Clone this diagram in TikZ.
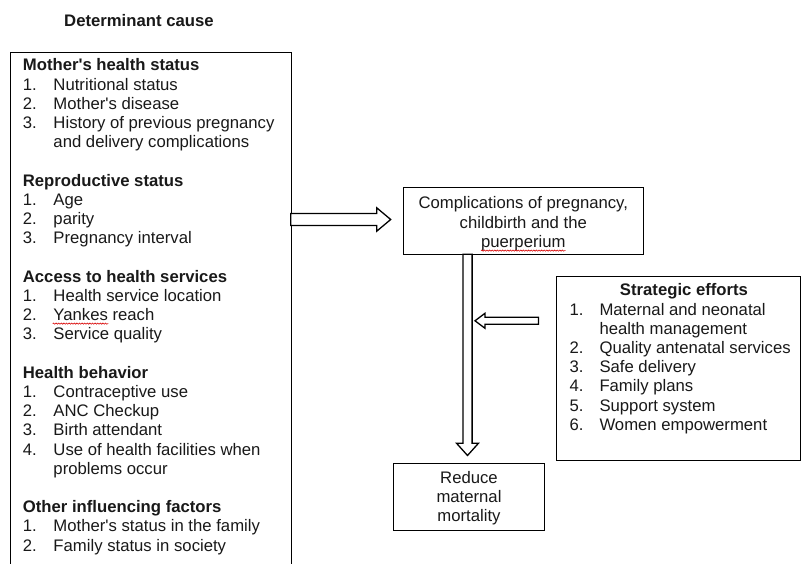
\documentclass[tikz,border=0pt]{standalone}
\usepackage{fontspec}
\setmainfont{Liberation Sans}
\newfontfamily\arialf{Liberation Sans}
\usetikzlibrary{decorations.pathmorphing}
\newcommand\fsz{\arialf\fontsize{16.7bp}{19.2bp}\selectfont}
\newcommand\hdl[2]{\node[hd] (h#1) at (22.7,{71+19.2*#1}) {#2};}
\newcommand\itl[3]{\node[txt] (n#1) at (22.7,{71+19.2*#1}) {#2};\node[txt] (t#1) at (53.3,{71+19.2*#1}) {#3};}
\newcommand\ctl[2]{\node[txt] (t#1) at (53.3,{71+19.2*#1}) {#2};}
\newcommand\sitl[3]{\node[txt] (sn#1) at (569.3,{315+19.2*#1}) {#2};\node[txt] (st#1) at (599.3,{315+19.2*#1}) {#3};}
\newcommand\sctl[2]{\node[txt] (st#1) at (599.3,{315+19.2*#1}) {#2};}
\begin{document}
\begin{tikzpicture}[x=1bp,y=-1bp,
  txt/.style={anchor=base west, inner sep=0pt, font=\fsz, text=black!90},
  hd/.style={txt, font=\fsz\bfseries},
  ctr/.style={anchor=base, inner sep=0pt, font=\fsz, text=black!90},
  box/.style={draw, line width=0.9bp, inner sep=0pt},
  blk/.style={draw, line width=1.3bp, fill=white, line join=miter},
  squig/.style={draw=red!85!black, line width=0.6bp, decorate, decoration={snake, amplitude=0.6bp, segment length=2.6bp}}]
\clip (0,0) rectangle (802,564);
\fill[white] (0,0) rectangle (802,564);
% title
\node[hd] (title) at (64,27) {Determinant cause};
% left box
\node[box, minimum width=281bp, minimum height=560bp] (det) at (150.5,332) {};
\hdl{0}{Mother's health status}
\itl{1}{1.}{Nutritional status}
\itl{2}{2.}{Mother's disease}
\itl{3}{3.}{History of previous pregnancy}
\ctl{4}{and delivery complications}
\hdl{6}{Reproductive status}
\itl{7}{1.}{Age}
\itl{8}{2.}{parity}
\itl{9}{3.}{Pregnancy interval}
\hdl{11}{Access to health services}
\itl{12}{1.}{Health service location}
\itl{13}{2.}{Yankes reach}
\itl{14}{3.}{Service quality}
\hdl{16}{Health behavior}
\itl{17}{1.}{Contraceptive use}
\itl{18}{2.}{ANC Checkup}
\itl{19}{3.}{Birth attendant}
\itl{20}{4.}{Use of health facilities when}
\ctl{21}{problems occur}
\hdl{23}{Other influencing factors}
\itl{24}{1.}{Mother's status in the family}
\itl{25}{2.}{Family status in society}
\path[squig] (52.7,323.6) -- (108.3,323.6);
% complications box
\node[box, minimum width=239.4bp, minimum height=66.7bp] (comp) at (523.3,220.8) {};
\node[ctr] (c1) at (523.3,209) {Complications of pregnancy,};
\node[ctr] (c2) at (523.3,228.2) {childbirth and the};
\node[ctr] (c3) at (523.3,247.4) {puerperium};
\path[squig] (481,250.6) -- (565.5,250.6);
% reduce box
\node[box, minimum width=151bp, minimum height=67.4bp] (red) at (468.8,497) {};
\node[ctr] (r1) at (469,483.3) {Reduce};
\node[ctr] (r2) at (469,502.4) {maternal};
\node[ctr] (r3) at (469,521.4) {mortality};
% strategic box
\node[box, minimum width=243.8bp, minimum height=183.3bp] (strat) at (678.6,368.4) {};
\node[ctr, font=\fsz\bfseries] (sh) at (684,295.7) {Strategic efforts};
\sitl{0}{1.}{Maternal and neonatal}
\sctl{1}{health management}
\sitl{2}{2.}{Quality antenatal services}
\sitl{3}{3.}{Safe delivery}
\sitl{4}{4.}{Family plans}
\sitl{5}{5.}{Support system}
\sitl{6}{6.}{Women empowerment}
% block arrows
\coordinate (a1tail) at (290.7,219.5);
\coordinate (a1tip) at (390.7,219.5);
\draw[blk] (a1tail) ++(0,-5.9) -- ++(86,0) -- ++(0,-5.8) -- (a1tip) -- ++(-14,11.7) -- ++(0,-5.8) -- ++(-86,0) -- cycle;
\coordinate (a2tail) at (467.5,254.2);
\coordinate (a2tip) at (467.5,455.5);
\draw[blk] (a2tail) ++(-4.6,0) -- ++(0,189) -- ++(-6.4,0) -- (a2tip) -- ++(11,-12.3) -- ++(-6.4,0) -- ++(0,-189) -- cycle;
\coordinate (a3tail) at (538.5,320.8);
\coordinate (a3tip) at (475,320.8);
\draw[blk] (a3tail) ++(0,-3.5) -- ++(-53.5,0) -- ++(0,-4) -- (a3tip) -- ++(10,7.5) -- ++(0,-4) -- ++(53.5,0) -- cycle;
\end{tikzpicture}
\end{document}
